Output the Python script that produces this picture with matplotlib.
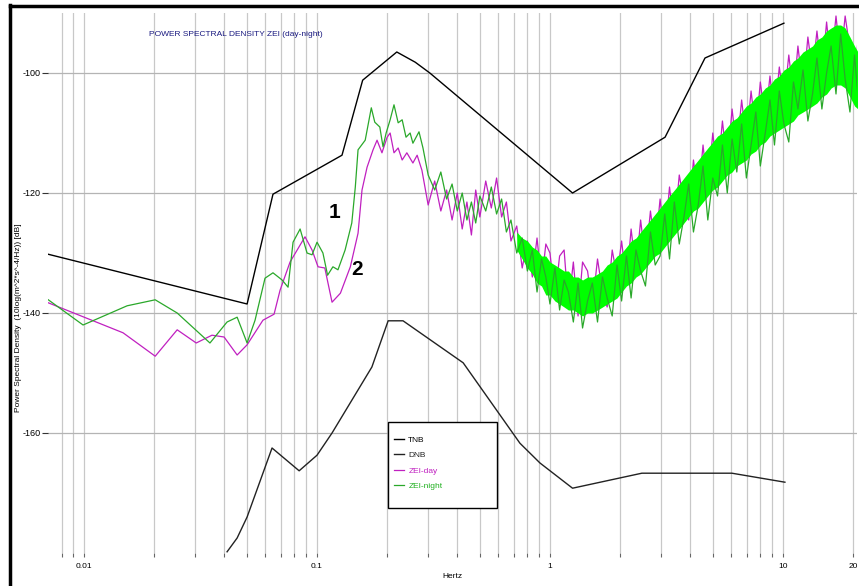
import matplotlib
matplotlib.use("Agg")
import matplotlib.pyplot as plt
from matplotlib import font_manager
from matplotlib.lines import Line2D
from matplotlib.patches import Rectangle

# --- data (frequency in Hz, level in dB) ---
tnb_f = [0.0070, 0.0501, 0.0647, 0.128, 0.157, 0.220, 0.264, 0.305, 1.25, 3.12, 4.63, 10.1]
tnb_db = [-130.2, -138.5, -120.2, -113.7, -101.2, -96.5, -98.2, -100.0, -120.0, -110.7, -97.5, -91.7]

dnb_f = [0.0411, 0.0454, 0.0501, 0.0641, 0.0838, 0.100, 0.116, 0.172, 0.202, 0.234,
         0.424, 0.743, 0.906, 1.25, 2.48, 6.04, 10.2]
dnb_db = [-179.8, -177.5, -174.0, -162.5, -166.3, -163.7, -160.0, -149.0, -141.3, -141.3,
          -148.3, -161.7, -165.0, -169.2, -166.7, -166.7, -168.2]

# sparse low-frequency part of the two spectra
night_lf_f = [0.00702, 0.0099, 0.0153, 0.0202, 0.0251, 0.0347, 0.0411, 0.0454, 0.0501, 0.0542,
              0.0598, 0.0647, 0.0708, 0.0751, 0.0789, 0.0846, 0.0906, 0.0952, 0.100, 0.106,
              0.111, 0.117, 0.123, 0.132, 0.141, 0.146, 0.150, 0.161, 0.171, 0.177,
              0.186, 0.192, 0.198, 0.206, 0.214, 0.223, 0.232, 0.241, 0.251, 0.258,
              0.274, 0.285]
night_lf_db = [-137.8, -142.0, -138.8, -137.8, -140.0, -145.0, -141.5, -140.7, -145.0, -141.2,
               -134.2, -133.3, -134.5, -135.7, -128.2, -126.0, -130.0, -130.3, -128.2, -130.0,
               -133.7, -132.3, -132.8, -129.5, -125.0, -119.0, -112.8, -111.2, -105.8, -108.2,
               -109.0, -112.3, -110.0, -107.8, -105.3, -108.3, -107.8, -110.7, -110.0, -111.7,
               -109.8, -112.5]

day_lf_f = [0.00702, 0.0147, 0.0202, 0.0251, 0.0303, 0.0354, 0.0399, 0.0454, 0.0501, 0.0586,
            0.0654, 0.0694, 0.0766, 0.0888, 0.0952, 0.101, 0.108, 0.116, 0.126, 0.139,
            0.150, 0.156, 0.164, 0.174, 0.181, 0.190, 0.200, 0.206, 0.214, 0.223,
            0.232, 0.243, 0.258, 0.269, 0.282]
day_lf_db = [-138.3, -143.3, -147.2, -142.8, -145.0, -143.7, -144.0, -147.0, -145.3, -141.2,
             -140.2, -136.2, -131.5, -127.3, -129.5, -132.3, -132.5, -138.2, -136.7, -132.3,
             -126.7, -119.5, -115.7, -112.8, -111.2, -113.3, -110.7, -110.0, -113.3, -112.5,
             -114.5, -113.3, -115.0, -113.7, -116.2]

# noisy high-frequency part (shared frequency list)
noise_f = [0.30, 0.32, 0.34, 0.36, 0.38, 0.40, 0.42, 0.44, 0.46, 0.48,
           0.50, 0.53, 0.56, 0.59, 0.62, 0.65, 0.68, 0.72, 0.76, 0.80,
           0.84, 0.88, 0.92, 0.96, 1.00, 1.05, 1.10, 1.15, 1.20, 1.26,
           1.32, 1.38, 1.45, 1.52, 1.60, 1.68, 1.76, 1.85, 1.94, 2.03,
           2.13, 2.23, 2.34, 2.45, 2.57, 2.70, 2.83, 2.97, 3.11, 3.26,
           3.42, 3.59, 3.76, 3.94, 4.13, 4.33, 4.54, 4.76, 5.00, 5.24,
           5.50, 5.77, 6.05, 6.34, 6.65, 6.97, 7.30, 7.65, 8.00, 8.40,
           8.80, 9.20, 9.65, 10.1, 10.6, 11.1, 11.6, 12.2, 12.8, 13.4,
           14.0, 14.7, 15.4, 16.1, 16.9, 17.7, 18.5, 19.4, 20.3, 21.0]
night_hf_db = [-117, -119.5, -116.5, -121, -118.5, -123, -120, -124.5, -121.5, -125,
               -120.5, -123, -119, -123.5, -121, -126.5, -124.5, -130, -127.5, -133,
               -129.5, -136.5, -131, -134, -138.5, -132.5, -139.5, -134.5, -136.5, -141.5,
               -135, -142.5, -138, -135, -141.5, -134, -137.5, -140.5, -132, -138,
               -130.5, -137.5, -129.5, -133, -135.5, -126.5, -132, -130.5, -123.5, -131,
               -121.5, -128.5, -124, -118.5, -126.5, -122, -115.5, -124.5, -117.5, -120.5,
               -112, -120, -111, -116.5, -108.5, -117.5, -112, -106.5, -115.5, -110,
               -104.5, -112, -103, -108.5, -111.5, -101.5, -106, -99.5, -108, -103.5,
               -97.5, -106, -100, -95.5, -103.5, -93.5, -101, -106.5, -97, -104]
day_hf_db = [-122, -118, -123, -119.5, -124.5, -120, -126, -121.5, -127, -119.5,
             -124, -118, -122.5, -117.5, -124, -121.5, -128, -125.5, -132.5, -128,
             -134, -127.5, -135, -128.5, -130, -137.5, -130.5, -129.5, -139, -131.5,
             -140.5, -131.5, -133, -139, -131, -136.5, -139, -129.5, -134, -128,
             -135, -126, -133, -124.5, -131.5, -123, -129.5, -121, -128, -119,
             -126, -117, -121.5, -124.5, -114.5, -121, -112, -119.5, -110, -117,
             -108, -115.5, -106, -113, -104.5, -111.5, -103, -110, -101.5, -108,
             -100.5, -107.5, -99, -105, -97, -104, -95.5, -103, -94, -100,
             -93, -100.5, -91.5, -99, -90.5, -98, -90.5, -96, -102, -94.5]

# dense core of the night spectrum above 0.7 Hz (upper / lower edge)
band_top = [-126.5, -127.5, -128,
            -129, -129.5, -130.5, -130.5, -131.5, -132, -132.5, -133, -133, -134,
            -134, -134.5, -134, -134, -133.5, -133, -132, -131.5, -130.5, -130,
            -129, -128, -127.5, -126.5, -125.5, -124.5, -123.5, -122.5, -121.5, -120.5,
            -119.5, -118.5, -117.5, -116.5, -115.5, -114.5, -113.5, -112.5, -111.5, -110.5,
            -110, -109, -108, -107.5, -106.5, -105.5, -105, -104, -103.5, -102.5,
            -102, -101, -100.5, -99.5, -99, -98, -97.5, -96.5, -96, -95.5,
            -94.5, -94, -93, -92.5, -92, -92, -92.5, -94, -95.5, -96.5]
band_bot = [-129.5, -131, -132.5,
            -133.5, -135, -135.5, -137, -137, -138, -138.5, -139, -139.5, -139.5,
            -140, -140.5, -140, -140, -139.5, -139, -138.5, -138, -137.5, -136.5,
            -135.5, -135, -134, -133.5, -132.5, -131.5, -130.5, -130, -129, -128,
            -127, -126, -125, -124, -123, -122.5, -121.5, -120.5, -119.5, -119,
            -118, -117, -116.5, -115.5, -115, -114.5, -113.5, -113, -112, -111.5,
            -110.5, -110, -109.5, -109, -108.5, -108, -107, -106.5, -106, -105.5,
            -105, -104, -103.5, -102.5, -102, -102, -102.5, -104, -105.5, -106]
band_f = noise_f[-len(band_top):]

night_f = night_lf_f + noise_f
night_db = night_lf_db + night_hf_db
day_f = day_lf_f + noise_f
day_db = day_lf_db + day_hf_db

major_ticks = [0.01, 0.1, 1, 10, 20]
major_labels = ["0.01", "0.1", "1", "10", "20"]
minor_ticks = [0.008, 0.009] + [m * d for d in (0.01, 0.1, 1) for m in range(2, 10)]
y_ticks = [-160, -140, -120, -100]

# --- fonts ---
names = {f.name for f in font_manager.fontManager.ttflist}
narrow = "Liberation Sans Narrow" if "Liberation Sans Narrow" in names else "Liberation Sans"
plt.rcParams["font.family"] = ["Liberation Sans", "DejaVu Sans"]

W, H = 859, 586
fig = plt.figure(figsize=(W / 100, H / 100), dpi=100)
ax = fig.add_axes([48 / W, 1 - 553 / H, (857 - 48) / W, 540 / H])

c_day = "#c020c0"
c_night = "#2aa82a"

ax.plot(tnb_f, tnb_db, color="black", lw=1.0, label="TNB", zorder=3)
ax.plot(dnb_f, dnb_db, color="#222222", lw=1.0, label="DNB", zorder=3)
ax.plot(day_f, day_db, color=c_day, lw=0.9, label="ZEI-day", zorder=4)
ax.fill_between(band_f, band_bot, band_top, color="#00ff00", lw=0, zorder=5)
ax.plot(night_f, night_db, color=c_night, lw=0.9, label="ZEI-night", zorder=6)

ax.set_xscale("log")
ax.set_xlim(0.007, 20.8)
ax.set_ylim(-180, -90)

ax.set_xticks(major_ticks)
ax.set_xticklabels(major_labels)
ax.set_xticks(minor_ticks, minor=True)
ax.set_xticklabels([], minor=True)
ax.set_yticks(y_ticks)
ax.set_yticklabels([str(v) for v in y_ticks])

for s in ax.spines.values():
    s.set_visible(False)

ax.grid(which="both", axis="x", color="#c8c8c8", lw=0.9)
ax.grid(which="major", axis="y", color="#b4b4b4", lw=0.9)
ax.set_axisbelow(True)

ax.tick_params(axis="y", length=4, width=0.8, color="#333333", labelsize=6.5, pad=1)
ax.tick_params(axis="x", which="both", length=3, width=0.8, color="#666666",
               labelsize=6, pad=4)

ax.set_xlabel("Hertz", fontsize=6, labelpad=2)
ax.set_ylabel("Power Spectral Density  (10log(m^2*s^-4/Hz)) [dB]", fontsize=6,
              family=[narrow, "DejaVu Sans"])
ax.yaxis.set_label_coords(-0.032, 0.435)

fig.text(236 / W, 1 - 35 / H, "POWER SPECTRAL DENSITY ZEI (day-night)",
         color="#1a1a80", fontsize=6, ha="center", va="center",
         family=[narrow, "DejaVu Sans"])

ax.text(0.119, -123.3, "1", fontsize=15, fontweight="bold", ha="center", va="center")
ax.text(0.149, -132.8, "2", fontsize=15, fontweight="bold", ha="center", va="center")

# legend: boxed frame drawn separately so it has the reference's size
x0 = (388 - 48) / 809
y0 = (553 - 508) / 540
ax.add_patch(Rectangle((x0, y0), 109 / 809, 86 / 540, transform=ax.transAxes,
                       fill=True, facecolor="white", edgecolor="black", lw=1.0, zorder=8))
leg = ax.legend(loc="upper left", bbox_to_anchor=((390 - 48) / 809, (553 - 432) / 540),
                frameon=False, fontsize=6, handlelength=1.2, handletextpad=0.5,
                labelspacing=0.9, borderpad=0,
                labelcolor=["black", "#222222", c_day, "#20b020"])
leg.set_zorder(9)

# window border of the original screenshot
fig.add_artist(Line2D([10 / W, 10 / W], [0, 1 - 5 / H], transform=fig.transFigure,
                      color="black", lw=2.5))
fig.add_artist(Line2D([10 / W, 1], [1 - 6 / H, 1 - 6 / H], transform=fig.transFigure,
                      color="black", lw=2.5))

fig.savefig("out.png", dpi=100)
